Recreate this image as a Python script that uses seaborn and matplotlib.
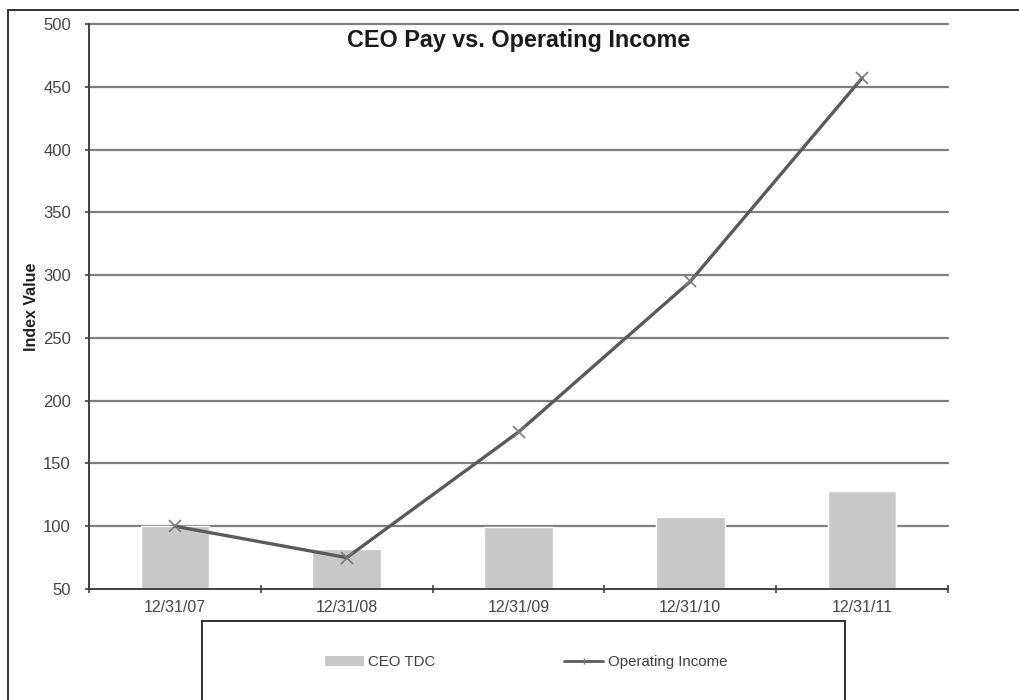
import matplotlib
matplotlib.use("Agg")
import matplotlib.pyplot as plt
from matplotlib.patches import Rectangle
from matplotlib.lines import Line2D
from matplotlib.patches import Patch
import seaborn as sns
import pandas as pd

dates = ["12/31/07", "12/31/08", "12/31/09", "12/31/10", "12/31/11"]
ceo_tdc = [100, 82, 99, 107, 128]
operating_income = [100, 75, 175, 295, 457]
yticks = [50, 100, 150, 200, 250, 300, 350, 400, 450, 500]

sns.set_theme(style="white")
plt.rcParams["font.family"] = ["Liberation Sans", "DejaVu Sans"]

df = pd.DataFrame({"date": dates, "tdc": ceo_tdc, "oi": operating_income})

fig = plt.figure(figsize=(10.2, 7.0), dpi=100)
fig.patch.set_facecolor("white")
ax = fig.add_axes([89/1020, 1-589/700, (948-89)/1020, (589-24)/700])

bar_color = "#c8c8c8"
line_color = "#5a5a5a"

sns.barplot(data=df, x="date", y="tdc", color=bar_color, width=0.4,
            saturation=1, ax=ax, zorder=2)
sns.lineplot(data=df, x="date", y="oi", color=line_color, linewidth=2.4,
             marker="x", markersize=9, markeredgewidth=1.2,
             markeredgecolor="#7a7a7a", ax=ax, zorder=3, legend=False)

ax.set_ylim(50, 500)
ax.set_xlim(-0.5, len(dates) - 0.5)
ax.set_yticks(yticks)
ax.set_yticklabels([str(v) for v in yticks], fontsize=12, color="#454545")
ax.set_xticks(range(len(dates)))
ax.set_xticklabels(dates, fontsize=11.5, color="#454545")
ax.set_xticks([i - 0.5 for i in range(len(dates) + 1)], minor=True)
ax.tick_params(axis="x", which="major", length=0, pad=8)
ax.tick_params(axis="x", which="minor", length=6, width=1.2, color="#404040",
               direction="inout", bottom=True)
ax.tick_params(axis="y", which="major", length=6, width=1.2, color="#404040",
               direction="inout", left=True, pad=10)

for v in yticks[1:]:
    ax.axhline(v, color="#7f7f7f", linewidth=1.6, zorder=1, clip_on=False)

for s in ["top", "right"]:
    ax.spines[s].set_visible(False)
for s in ["left", "bottom"]:
    ax.spines[s].set_color("#404040")
    ax.spines[s].set_linewidth(1.4)
    ax.spines[s].set_zorder(4)

ax.set_xlabel("")
ax.set_ylabel("Index Value", fontsize=11.5, fontweight="bold", color="#202020")
ax.yaxis.set_label_coords(-50/859, 0.5)

fig.text(519/1020, 1-40/700, "CEO Pay vs. Operating Income", fontsize=16.8,
         fontweight="bold", ha="center", va="center", color="#1a1a1a")

# outer frame
fig.add_artist(Line2D([8/1020, 8/1020], [0, 1-10/700], transform=fig.transFigure,
                      color="#303030", linewidth=1.4))
fig.add_artist(Line2D([8/1020, 1], [1-10/700, 1-10/700], transform=fig.transFigure,
                      color="#303030", linewidth=1.4))

# legend box
fig.add_artist(Rectangle((202/1020, -0.05), (845-202)/1020, (0.05 + 1-621/700),
                         transform=fig.transFigure, fill=False,
                         edgecolor="#303030", linewidth=1.4))
handles = [Patch(facecolor=bar_color, edgecolor="none", label="CEO TDC"),
           Line2D([], [], color=line_color, linewidth=2, marker="|",
                  markersize=5, markeredgecolor="#7a7a7a",
                  label="Operating Income")]
leg = fig.legend(handles=handles, loc="center", ncol=2,
                 bbox_to_anchor=(526/1020, 1-662/700), frameon=False,
                 fontsize=10.8, handlelength=2.6, handleheight=0.7,
                 columnspacing=8.6, handletextpad=0.3)
for t in leg.get_texts():
    t.set_color("#404040")

fig.savefig("out.png", dpi=100, facecolor="white")
